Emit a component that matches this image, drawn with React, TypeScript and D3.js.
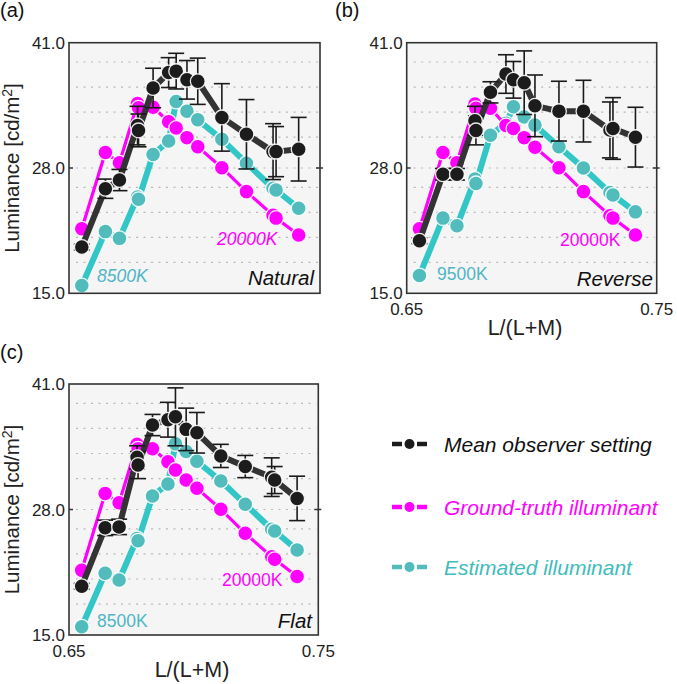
import React from "react";
import * as d3 from "d3";

// ---------- DATA ----------
const xVals = [0.6551, 0.6645, 0.6701, 0.6773, 0.6777, 0.6835, 0.6897, 0.6927, 0.697, 0.7013, 0.7109, 0.7207, 0.7313, 0.7325, 0.7415];

const meanNatural = [19.8, 25.85, 26.75, 32.4, 31.9, 36.3, 37.9, 38.05, 37.15, 37.0, 33.25, 31.5, 29.7, 29.7, 29.95];
const errNatural = [0.3, 1.0, 1.1, 2.0, 1.7, 2.05, 1.55, 1.85, 2.0, 2.4, 3.5, 3.6, 2.9, 2.6, 3.3];
const truthNatural = [21.7, 29.6, 28.55, 34.7, 34.25, 34.3, 32.8, 32.15, 31.15, 30.2, 28.03, 25.55, 23.1, 22.8, 21.05];
const estNatural = [15.8, 21.4, 20.7, 25.0, 24.75, 29.4, 30.8, 34.9, 33.9, 33.0, 30.98, 28.5, 25.9, 25.72, 23.82];

const meanReverse = [20.45, 27.35, 27.35, 32.9, 31.9, 35.85, 37.75, 37.15, 36.85, 34.45, 33.9, 33.9, 31.95, 32.1, 31.2];
const errReverse = [0.3, 0.6, 0.6, 1.5, 1.5, 1.1, 2.0, 1.9, 3.3, 3.2, 3.1, 3.2, 2.9, 3.2, 3.1];
const truthReverse = [21.7, 29.6, 28.55, 34.65, 34.2, 34.2, 32.4, 32.1, 31.15, 30.15, 28.03, 25.55, 23.05, 22.8, 21.05];
const estReverse = [16.85, 22.8, 22.0, 26.85, 26.4, 31.4, 32.65, 34.35, 33.3, 32.45, 30.2, 28.0, 25.45, 25.2, 23.45];

const meanFlat = [20.05, 26.1, 26.2, 33.4, 32.6, 36.75, 37.3, 37.6, 36.3, 35.95, 33.55, 32.45, 31.35, 31.05, 29.15];
const errFlat = [0.3, 0.8, 0.8, 1.2, 1.4, 1.1, 1.8, 3.0, 2.2, 2.1, 1.2, 1.15, 2.0, 1.4, 2.3];
const truthFlat = [21.7, 29.65, 28.7, 34.75, 34.3, 34.3, 32.95, 32.1, 31.05, 30.2, 28.02, 25.53, 23.1, 22.85, 21.05];
const estFlat = [15.85, 21.4, 20.7, 25.0, 24.77, 29.4, 30.65, 34.8, 34.0, 33.0, 30.95, 28.55, 25.95, 25.77, 23.8];

const panelLetters = ["(a)", "(b)", "(c)"];
const conditionNames = ["Natural", "Reverse", "Flat"];
const estimateTemps = ["8500K", "9500K", "8500K"];
const truthTemp = "20000K";

const yTicks = [15.0, 28.0, 41.0];
const xTicks = [0.65, 0.75];
const gridValues = [18.2, 20.8, 23.4, 26.0, 28.0, 31.2, 33.8, 36.4, 39.0];
const xLabel = "L/(L+M)";
const legendLabels = ["Mean observer setting", "Ground-truth illuminant", "Estimated illuminant"];

// ---------- STYLE ----------
const FONT = "'Liberation Sans', Arial, Helvetica, sans-serif";
const BLACK_LINE = "#333333";
const BLACK_FILL = "#1c1c1c";
const MAG = "#ff00ff";
const CYAN_LINE = "#33c6c6";
const CYAN_FILL = "#52bcbc";
const CYAN_TEXT = "#4fb6c6";

type PanelCfg = {
  left: number; top: number; w: number; h: number;
  mean: number[]; err: number[]; truth: number[]; est: number[];
  idx: number; showX: boolean; showY: boolean; italicTemps: boolean;
  estLabelPos: [number, number]; truthLabelPos: [number, number];
  condPos: [number, number]; letterPos: [number, number]; xLabelX: number;
};

const panels: PanelCfg[] = [
  { left: 69, top: 42.7, w: 251, h: 250.6, mean: meanNatural, err: errNatural, truth: truthNatural, est: estNatural,
    idx: 0, showX: false, showY: true, italicTemps: true, estLabelPos: [97, 282], truthLabelPos: [217, 245], condPos: [314, 285], letterPos: [0, 17], xLabelX: 0 },
  { left: 406.7, top: 42.7, w: 250, h: 250.6, mean: meanReverse, err: errReverse, truth: truthReverse, est: estReverse,
    idx: 1, showX: true, showY: false, italicTemps: false, estLabelPos: [437, 280], truthLabelPos: [560, 246], condPos: [653, 286], letterPos: [335, 17], xLabelX: 525 },
  { left: 69, top: 384, w: 249.3, h: 251, mean: meanFlat, err: errFlat, truth: truthFlat, est: estFlat,
    idx: 2, showX: true, showY: true, italicTemps: false, estLabelPos: [97, 627], truthLabelPos: [222, 586], condPos: [312, 628], letterPos: [0, 359], xLabelX: 192 },
];

function Panel({ p }: { p: PanelCfg }) {
  const x = d3.scaleLinear().domain([0.65, 0.75]).range([p.left, p.left + p.w]);
  const y = d3.scaleLinear().domain([15, 41]).range([p.top + p.h, p.top]);
  const line = d3.line<number>().x((_, i) => x(xVals[i])).y((v) => y(v));
  const r = 7.4;
  const right = p.left + p.w;
  const bottom = p.top + p.h;

  const markers = (vals: number[], fill: string, key: string) =>
    vals.map((v, i) => (
      <circle key={key + i} cx={x(xVals[i])} cy={y(v)} r={r} fill={fill} stroke="#ffffff" strokeWidth={1.3} strokeOpacity={0.9} />
    ));

  return (
    <g>
      <rect x={p.left} y={p.top} width={p.w} height={p.h} fill="#f5f5f5" />
      {gridValues.map((g) => (
        <line key={"g" + g} x1={p.left + 7} x2={right - 2} y1={y(g)} y2={y(g)} stroke="#b8b8b8" strokeWidth={1.2} strokeDasharray="2,5.5" />
      ))}
      <line x1={p.left} x2={p.left + 4} y1={y(28)} y2={y(28)} stroke="#333" strokeWidth={1.5} />
      <line x1={right - 4} x2={right + 3} y1={y(28)} y2={y(28)} stroke="#333" strokeWidth={1.5} />

      <path d={line(p.est) || ""} fill="none" stroke={CYAN_LINE} strokeWidth={6} strokeLinejoin="round" />
      {markers(p.est, CYAN_FILL, "c")}
      <path d={line(p.truth) || ""} fill="none" stroke={MAG} strokeWidth={3.2} strokeLinejoin="round" />
      {markers(p.truth, MAG, "m")}
      <path d={line(p.mean) || ""} fill="none" stroke={BLACK_LINE} strokeWidth={6} strokeLinejoin="round" />
      {p.mean.map((v, i) => {
        const cx = x(xVals[i]);
        const e = p.err[i];
        return (
          <g key={"e" + i} stroke="#1a1a1a" strokeWidth={1.6}>
            <line x1={cx} x2={cx} y1={y(v - e)} y2={y(v + e)} />
            <line x1={cx - 8} x2={cx + 8} y1={y(v - e)} y2={y(v - e)} />
            <line x1={cx - 8} x2={cx + 8} y1={y(v + e)} y2={y(v + e)} />
          </g>
        );
      })}
      {markers(p.mean, BLACK_FILL, "k")}

      <rect x={p.left} y={p.top} width={p.w} height={p.h} fill="none" stroke="#333" strokeWidth={1.6} />

      <text x={p.estLabelPos[0]} y={p.estLabelPos[1]} fill={CYAN_TEXT} fontSize={17.5} fontStyle={p.italicTemps ? "italic" : "normal"}>{estimateTemps[p.idx]}</text>
      <text x={p.truthLabelPos[0]} y={p.truthLabelPos[1]} fill={MAG} fontSize={17.5} fontStyle={p.italicTemps ? "italic" : "normal"}>{truthTemp}</text>
      <text x={p.condPos[0]} y={p.condPos[1]} fill="#111" fontSize={20.5} fontStyle="italic" textAnchor="end">{conditionNames[p.idx]}</text>

      {yTicks.map((t) => (
        <text key={"yt" + t} x={p.left - 4} y={y(t)} dy="0.36em" textAnchor="end" fontSize={17} fill="#222">{t.toFixed(1)}</text>
      ))}
      {p.showY && (
        <text transform={`translate(${p.left - 50},${(p.top + bottom) / 2}) rotate(-90)`} textAnchor="middle" fontSize={20.5} fill="#222">
          Luminance [cd/m<tspan dy="-7" fontSize={14}>2</tspan><tspan dy="7">]</tspan>
        </text>
      )}
      {p.showX && xTicks.map((t) => (
        <text key={"xt" + t} x={x(t)} y={bottom + 22} textAnchor="middle" fontSize={17} fill="#222">{t.toFixed(2)}</text>
      ))}
      {p.showX && (
        <text x={p.xLabelX} y={bottom + 42} textAnchor="middle" fontSize={21.5} fill="#222">{xLabel}</text>
      )}
      <text x={p.letterPos[0]} y={p.letterPos[1]} fontSize={20} fill="#111">{panelLetters[p.idx]}</text>
    </g>
  );
}

export default function App() {
  const legendColors = [BLACK_FILL, MAG, CYAN_FILL];
  const legendText = ["#111", MAG, "#3fbcbc"];
  const legendY = [444, 507, 567];
  return (
    <svg width={677} height={684} style={{ position: "absolute", left: 0, top: 0, fontFamily: FONT, background: "#fff" }}>
      {panels.map((p) => <Panel key={p.idx} p={p} />)}
      {legendLabels.map((l, i) => (
        <g key={l}>
          <line x1={392} x2={402} y1={legendY[i]} y2={legendY[i]} stroke={legendColors[i]} strokeWidth={4.5} />
          <line x1={417} x2={427} y1={legendY[i]} y2={legendY[i]} stroke={legendColors[i]} strokeWidth={4.5} />
          <circle cx={409.5} cy={legendY[i]} r={5} fill={legendColors[i]} />
          <text x={444} y={legendY[i] + 7.5} fontSize={21} fontStyle="italic" fill={legendText[i]}>{l}</text>
        </g>
      ))}
    </svg>
  );
}
